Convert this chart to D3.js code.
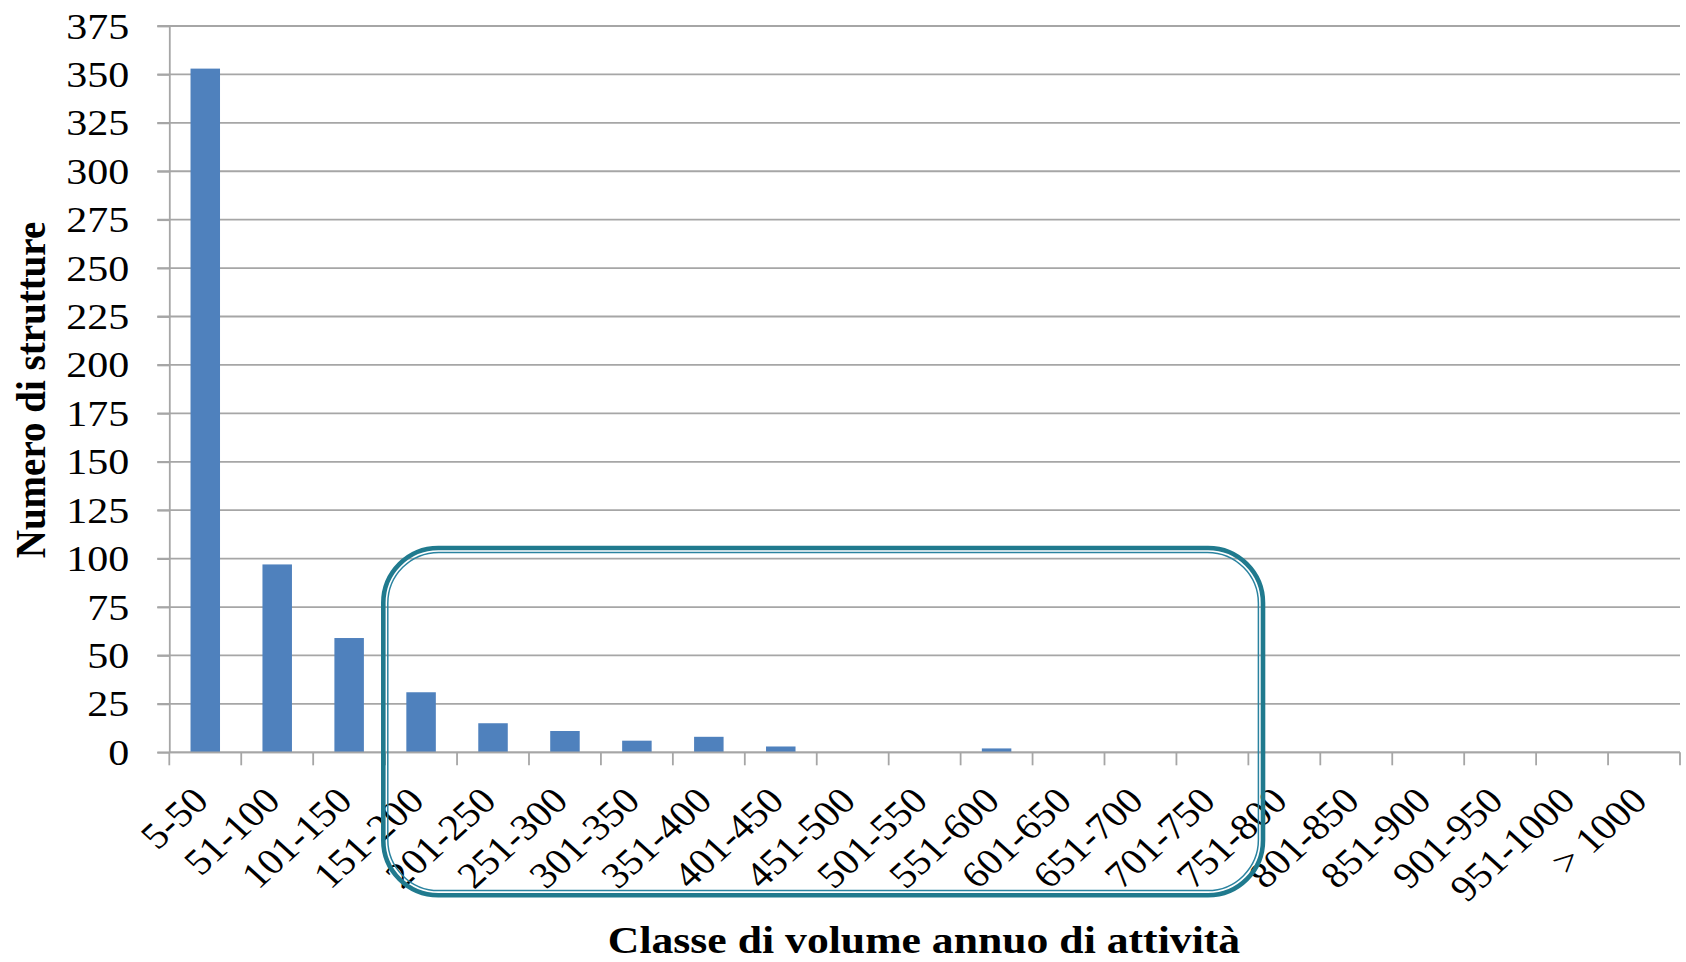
<!DOCTYPE html>
<html>
<head>
<meta charset="utf-8">
<script src="https://cdn.jsdelivr.net/npm/d3@7"></script>
<style>
  html, body { margin: 0; padding: 0; background: #ffffff; }
  svg { display: block; }
  text { font-family: "Liberation Serif", "Times New Roman", serif; fill: #000; }
</style>
</head>
<body>
<svg id="chart" width="1686" height="962"></svg>
<script>
const categories = ["5-50","51-100","101-150","151-200","201-250","251-300","301-350","351-400","401-450","451-500","501-550","551-600","601-650","651-700","701-750","751-800","801-850","851-900","901-950","951-1000","> 1000"];
const values = [353, 97, 59, 31, 15, 11, 6, 8, 3, 0, 0, 2, 0, 0, 0, 0, 0, 0, 0, 0, 0];
const yTicks = [0, 25, 50, 75, 100, 125, 150, 175, 200, 225, 250, 275, 300, 325, 350, 375];
const yTitle = "Numero di strutture";
const xTitle = "Classe di volume annuo di attività";

const svg = d3.select("#chart");
const plotLeft = 169.3, plotRight = 1680, plotTop = 26, plotBottom = 752.3;
const gridColor = "#a6a6a6";

const x = d3.scaleBand().domain(categories).range([plotLeft, plotRight]).padding(0);
const y = d3.scaleLinear().domain([0, 375]).range([plotBottom, plotTop]);

// gridlines
svg.append("g").selectAll("line").data(yTicks).join("line")
  .attr("x1", plotLeft - 12).attr("x2", plotRight)
  .attr("y1", d => y(d)).attr("y2", d => y(d))
  .attr("stroke", gridColor).attr("stroke-width", 1.8);

// y axis
const yAxis = svg.append("g").attr("transform", `translate(${plotLeft},0)`)
  .call(d3.axisLeft(y).tickValues(yTicks).tickSize(12).tickSizeOuter(0));
yAxis.select(".domain").attr("stroke", gridColor).attr("stroke-width", 1.8);
yAxis.selectAll(".tick line").attr("stroke", gridColor).attr("stroke-width", 1.8);
yAxis.selectAll(".tick text")
  .attr("x", 0).attr("dy", null).attr("y", 0)
  .attr("transform", "translate(-40,12) scale(1.2,1)")
  .attr("text-anchor", "end")
  .attr("fill", "#000")
  .style("font-family", "'Liberation Serif', 'Times New Roman', serif")
  .style("font-size", "35px");

// bars
const barW = x.bandwidth() * 0.41;
svg.append("g").selectAll("rect").data(categories).join("rect")
  .attr("x", d => x(d) + (x.bandwidth() - barW) / 2)
  .attr("width", barW)
  .attr("y", (d, i) => y(values[i]))
  .attr("height", (d, i) => y(0) - y(values[i]))
  .attr("fill", "#4f81bd");

// x axis baseline and boundary ticks
const xg = svg.append("g");
xg.append("line").attr("x1", plotLeft).attr("x2", plotRight).attr("y1", y(0)).attr("y2", y(0))
  .attr("stroke", gridColor).attr("stroke-width", 1.8);
const bounds = categories.map(c => x(c)).concat([plotRight]);
xg.selectAll("line.tk").data(bounds).join("line").attr("class", "tk")
  .attr("x1", d => d).attr("x2", d => d)
  .attr("y1", y(0)).attr("y2", y(0) + 13)
  .attr("stroke", gridColor).attr("stroke-width", 1.8);

// x tick labels
xg.selectAll("text").data(categories).join("text")
  .attr("transform", d => `translate(${x(d) + x.bandwidth() / 2 + 5},803) scale(1.1,1) rotate(-45)`)
  .attr("text-anchor", "end")
  .style("font-size", "37px")
  .text(d => d);

// highlight box
svg.append("rect")
  .attr("x", 383.3).attr("y", 548).attr("width", 879.7).attr("height", 347.3)
  .attr("rx", 55).attr("ry", 55)
  .attr("fill", "none").attr("stroke", "#207a8e").attr("stroke-width", 4.6);
svg.append("rect")
  .attr("x", 387.8).attr("y", 552.4).attr("width", 870.6).attr("height", 338.2)
  .attr("rx", 51).attr("ry", 51)
  .attr("fill", "none").attr("stroke", "#2a83a0").attr("stroke-width", 1.5);

// axis titles
svg.append("text")
  .attr("transform", "translate(924,953) scale(1.15,1)")
  .attr("text-anchor", "middle")
  .style("font-size", "38px").style("font-weight", "bold")
  .text(xTitle);
svg.append("text")
  .attr("transform", "translate(45,390) scale(1.08,1) rotate(-90)")
  .attr("text-anchor", "middle")
  .style("font-size", "39px").style("font-weight", "bold")
  .text(yTitle);
</script>
</body>
</html>
